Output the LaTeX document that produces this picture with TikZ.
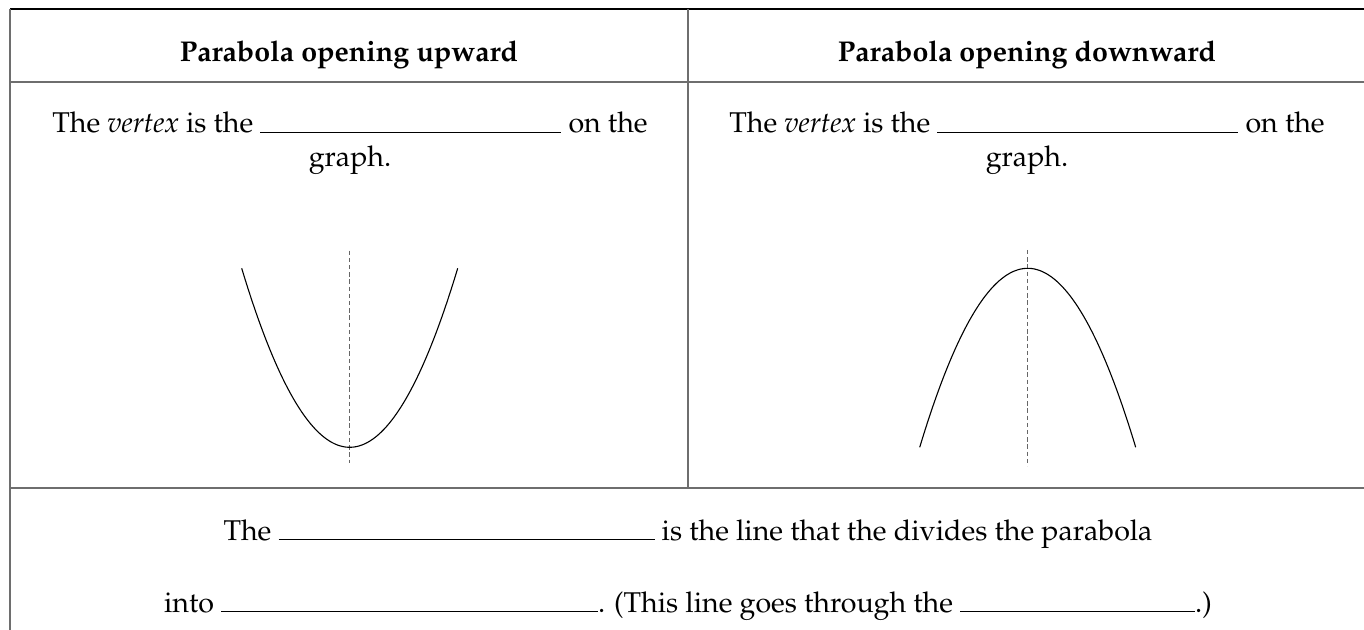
\documentclass[tikz,border=0pt]{standalone}
\usepackage[T1]{fontenc}
\usepackage{mathpazo}
\usepackage{tikz}
\definecolor{rulegray}{HTML}{6E6E6E}
\newcommand{\fillblank}[1]{\rule{#1}{0.5pt}}

\begin{document}
\begin{tikzpicture}[x=0.5pt,y=-0.5pt,
  font=\fontsize{14.3}{17}\selectfont,
  grid/.style={draw=rulegray,line width=0.65pt},
  axis/.style={draw=black!60,line width=0.5pt,dash pattern=on 2.2pt off 1.4pt},
  curve/.style={line width=0.55pt},
  txt/.style={anchor=base,inner sep=0pt}]
  \useasboundingbox (0,0) rectangle (1364,630);
  % table lines
  \draw[line width=0.65pt] (10,9) -- (1364,9);
  \draw[grid] (10,9) -- (10,630);
  \draw[grid] (688,9) -- (688,488);
  \draw[grid] (10,82) -- (1364,82);
  \draw[grid] (10,488) -- (1364,488);
  % headers
  \node[txt,font=\fontsize{14.3}{17}\selectfont\bfseries] (upH) at (349,62) {Parabola opening upward};
  \node[txt,font=\fontsize{14.3}{17}\selectfont\bfseries] (downH) at (1027,62) {Parabola opening downward};
  % vertex sentences
  \node[txt] (upA) at (350,133) {The \emph{vertex} is the \fillblank{150.5pt} on the};
  \node[txt] (upB) at (350,167) {graph.};
  \node[txt] (downA) at (1027,133) {The \emph{vertex} is the \fillblank{150.5pt} on the};
  \node[txt] (downB) at (1027,167) {graph.};
  % parabolas
  \draw[axis] (349.7,250.7) -- (349.7,462.7);
  \draw[curve] plot[domain=-108:108,samples=80] ({349.7+\x},{447.3-179*(\x/108)^2});
  \draw[axis] (1027.7,250) -- (1027.7,466);
  \draw[curve] plot[domain=-108:108,samples=80] ({1027.7+\x},{268.3+179*(\x/108)^2});
  % axis of symmetry sentence
  \node[txt] (symA) at (688,540) {The \fillblank{188pt} is the line that the divides the parabola};
  \node[txt] (symB) at (688,612) {into \fillblank{188.5pt}. (This line goes through the \fillblank{117.5pt}.)};
\end{tikzpicture}
\end{document}
